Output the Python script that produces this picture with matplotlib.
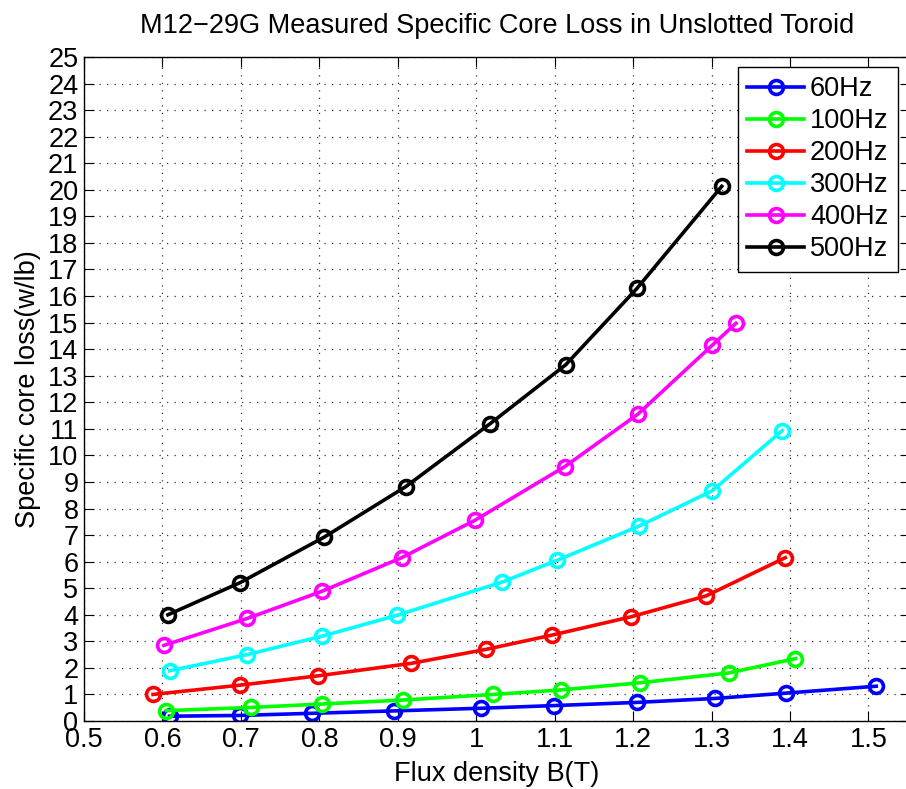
import matplotlib.pyplot as plt

plt.rcParams['font.family'] = ['Liberation Sans', 'DejaVu Sans']

# data
b_60 = [0.609, 0.699, 0.791, 0.895, 1.006, 1.099, 1.205, 1.305, 1.395, 1.510]
p_60 = [0.18, 0.21, 0.29, 0.38, 0.48, 0.58, 0.70, 0.85, 1.05, 1.31]

b_100 = [0.605, 0.713, 0.804, 0.907, 1.022, 1.108, 1.209, 1.322, 1.407]
p_100 = [0.39, 0.51, 0.64, 0.79, 1.00, 1.17, 1.44, 1.81, 2.35]

b_200 = [0.588, 0.699, 0.798, 0.917, 1.013, 1.096, 1.197, 1.293, 1.394]
p_200 = [1.00, 1.35, 1.70, 2.17, 2.70, 3.23, 3.92, 4.71, 6.15]

b_300 = [0.609, 0.708, 0.803, 0.899, 1.033, 1.103, 1.207, 1.301, 1.390]
p_300 = [1.89, 2.50, 3.19, 3.98, 5.23, 6.05, 7.33, 8.67, 10.93]

b_400 = [0.602, 0.708, 0.803, 0.905, 0.998, 1.113, 1.206, 1.301, 1.331]
p_400 = [2.85, 3.86, 4.88, 6.15, 7.55, 9.58, 11.55, 14.15, 14.97]

b_500 = [0.607, 0.699, 0.806, 0.910, 1.018, 1.114, 1.205, 1.313]
p_500 = [4.00, 5.21, 6.92, 8.82, 11.20, 13.41, 16.29, 20.13]

series = [
    (b_60, p_60, '#0000ff', '60Hz'),
    (b_100, p_100, '#00ff00', '100Hz'),
    (b_200, p_200, '#ff0000', '200Hz'),
    (b_300, p_300, '#00ffff', '300Hz'),
    (b_400, p_400, '#ff00ff', '400Hz'),
    (b_500, p_500, '#000000', '500Hz'),
]

x_ticks = [0.5, 0.6, 0.7, 0.8, 0.9, 1.0, 1.1, 1.2, 1.3, 1.4, 1.5]
x_tick_labels = ['0.5', '0.6', '0.7', '0.8', '0.9', '1', '1.1', '1.2', '1.3', '1.4', '1.5']
y_ticks = list(range(0, 26))

fs = 19.5

fig = plt.figure(figsize=(9.06, 7.89), dpi=100)
# right spine sits just past the canvas edge, like the reference
ax = fig.add_axes([84 / 906, 68 / 789, (910 - 84) / 906, (721 - 57) / 789])

for b, p, col, lab in series:
    ax.plot(b, p, color=col, linewidth=2.6, marker='o', markersize=10,
            markerfacecolor='none', markeredgewidth=2.6, label=lab)

ax.set_xlim(0.5, 1.553)
ax.set_ylim(0, 25)
ax.set_xticks(x_ticks)
ax.set_xticklabels(x_tick_labels)
ax.set_yticks(y_ticks)
ax.tick_params(direction='in', length=7, width=0.8, top=True, right=True,
               labelsize=fs, pad=4)
ax.grid(True, linestyle=(0, (1, 5)), color='0.2', linewidth=0.9)
for s in ax.spines.values():
    s.set_linewidth(1.0)

ax.set_title('M12\u221229G Measured Specific Core Loss in Unslotted Toroid',
             fontsize=fs, pad=17)
ax.set_xlabel('Flux density B(T)', fontsize=fs, labelpad=6)
ax.set_ylabel('Specific core loss(w/lb)', fontsize=fs, labelpad=5)

leg = ax.legend(loc='upper right', bbox_to_anchor=(0.9855, 0.985), borderaxespad=0,
                fontsize=fs, handlelength=2.1, handletextpad=0.22, labelspacing=0.22,
                borderpad=0.35, fancybox=False, framealpha=1, edgecolor='black')
leg.get_frame().set_linewidth(1.0)

plt.savefig('out.png', dpi=100)
